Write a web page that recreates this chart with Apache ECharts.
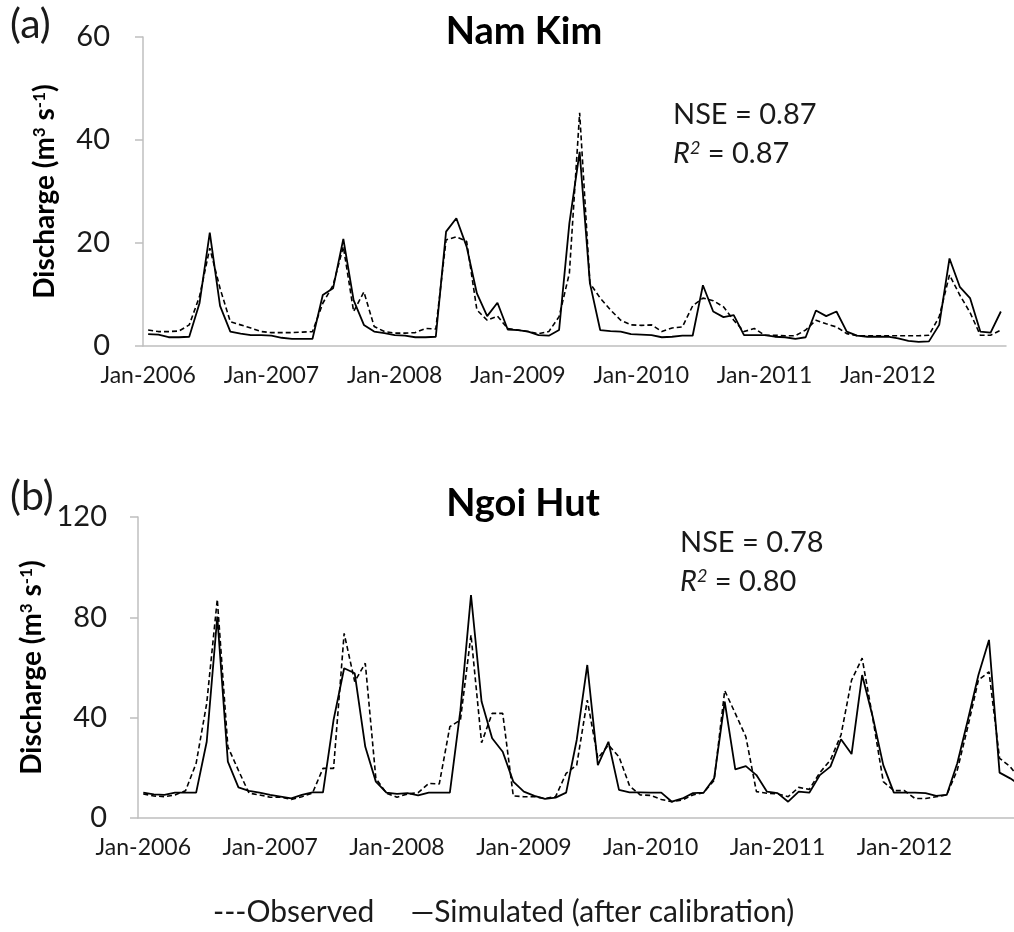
<!DOCTYPE html>
<html>
<head>
<meta charset="utf-8">
<script src="https://cdn.jsdelivr.net/npm/echarts@6/dist/echarts.min.js"></script>
<style>
html,body{margin:0;padding:0;background:#fff;overflow:hidden;width:1014px;height:932px;}
#chart{width:1040px;height:932px;}
</style>
</head>
<body>
<div id="chart"></div>
<script>
// Tick labels / categories
var years = [2006, 2007, 2008, 2009, 2010, 2011, 2012];
var monthNames = ['Jan','Feb','Mar','Apr','May','Jun','Jul','Aug','Sep','Oct','Nov','Dec'];
var panelTitles = ['Nam Kim', 'Ngoi Hut'];
var panelLetters = ['(a)', '(b)'];
var nseValues = ['0.87', '0.78'];
var r2Values = ['0.87', '0.80'];
var yTicksA = [0, 20, 40, 60];
var yTicksB = [0, 40, 80, 120];
var seriesNames = ['Observed', 'Simulated (after calibration)'];

// Monthly discharge, Jan-2006 .. Dec-2012 (m3/s)
var namKimObs = [
  3.1, 2.8, 2.8, 2.9, 4.1, 9.6, 19.0, 11.2, 4.7, 4.1, 3.5, 2.8,
  2.6, 2.6, 2.6, 2.7, 2.8, 8.3, 11.8, 19.3, 6.7, 10.5, 3.8, 2.8,
  2.5, 2.5, 2.6, 3.4, 3.3, 20.6, 21.2, 20.3, 7.0, 5.0, 5.8, 3.4,
  3.1, 2.8, 2.4, 2.8, 5.7, 14.1, 45.3, 12.2, 9.3, 7.0, 5.0, 4.1,
  4.0, 4.1, 2.8, 3.5, 3.7, 7.8, 9.3, 8.8, 7.6, 5.0, 2.8, 3.4,
  2.1, 2.1, 2.0, 2.0, 3.1, 5.0, 4.3, 3.7, 2.4, 2.0, 2.0, 2.0,
  2.0, 2.0, 2.0, 2.0, 2.1, 5.7, 13.8, 9.9, 6.5, 2.1, 2.1, 3.1
];
var namKimSim = [
  2.3, 2.2, 1.7, 1.7, 1.8, 8.3, 22.0, 7.8, 2.8, 2.4, 2.1, 2.1,
  2.0, 1.6, 1.4, 1.4, 1.4, 9.9, 11.2, 20.8, 8.9, 4.1, 2.8, 2.5,
  2.1, 2.0, 1.7, 1.7, 1.8, 22.2, 24.8, 19.3, 10.2, 5.8, 8.4, 3.2,
  3.1, 2.8, 2.1, 2.0, 3.1, 23.8, 37.7, 12.2, 3.1, 2.9, 2.8, 2.3,
  2.2, 2.1, 1.7, 1.8, 2.0, 2.0, 11.8, 6.7, 5.6, 6.0, 2.1, 2.1,
  2.1, 1.8, 1.7, 1.4, 1.7, 6.9, 5.8, 6.7, 2.8, 2.0, 1.8, 1.8,
  1.8, 1.5, 1.0, 0.8, 0.9, 4.1, 17.0, 11.5, 9.3, 2.8, 2.6, 6.7
];
var ngoiHutObs = [
  9.6, 8.8, 8.5, 9.2, 10.9, 21.8, 45.7, 87.2, 28.4, 19.0, 9.9, 9.2,
  8.3, 8.3, 7.4, 8.5, 9.9, 19.8, 19.8, 73.6, 54.4, 61.7, 15.8, 9.9,
  8.3, 9.6, 10.1, 13.8, 13.6, 36.4, 39.1, 73.0, 30.0, 41.7, 41.7, 8.8,
  8.5, 8.5, 7.8, 8.5, 17.8, 21.1, 47.0, 23.8, 29.1, 24.4, 12.8, 9.2,
  9.0, 7.4, 6.5, 7.2, 9.2, 10.1, 15.0, 50.8, 41.7, 32.4, 10.5, 9.9,
  9.6, 8.5, 12.2, 11.4, 18.1, 23.1, 33.1, 55.0, 63.7, 39.9, 14.5, 10.9,
  10.9, 7.8, 7.8, 8.5, 9.2, 19.1, 36.4, 55.0, 58.3, 23.8, 20.5, 15.0
];
var ngoiHutSim = [
  10.1, 9.4, 9.2, 10.1, 10.1, 10.1, 30.4, 80.3, 22.5, 12.2, 10.8, 10.1,
  9.2, 8.5, 7.8, 9.2, 10.2, 10.2, 39.1, 59.7, 57.7, 28.4, 14.5, 10.1,
  9.6, 9.9, 9.0, 10.1, 10.1, 10.1, 43.0, 88.9, 46.4, 31.8, 26.4, 14.5,
  10.5, 8.8, 7.6, 8.1, 10.1, 31.1, 61.0, 21.1, 30.4, 11.2, 10.2, 10.2,
  10.1, 10.1, 6.5, 7.8, 9.9, 10.1, 15.8, 46.4, 19.4, 20.7, 17.1, 10.5,
  9.9, 6.5, 10.5, 10.1, 17.1, 20.5, 31.4, 25.5, 57.0, 40.4, 21.1, 10.1,
  10.1, 10.1, 9.9, 8.8, 9.2, 21.8, 39.1, 57.0, 71.0, 18.1, 15.8, 13.0
];

var categories = [];
years.forEach(function (y) {
  monthNames.forEach(function (m) { categories.push(m + '-' + y); });
});

var FONT = 'Lato, "Open Sans", sans-serif';
var AXIS_GRAY = '#bfbfbf';
var TEXT = '#1a1a1a';

function xAxisFor(gridIndex) {
  return {
    type: 'category', gridIndex: gridIndex, data: categories, boundaryGap: true,
    axisLine: { lineStyle: { color: AXIS_GRAY, width: 1.5 } },
    axisTick: { interval: 11, length: 8, lineStyle: { color: AXIS_GRAY, width: 1.5 } },
    axisLabel: { interval: 11, color: TEXT, fontFamily: FONT, fontSize: 23, margin: 18 },
    splitLine: { show: false }
  };
}
function yAxisFor(gridIndex, ticks, labelMargin, nameGap) {
  return {
    type: 'value', gridIndex: gridIndex,
    min: ticks[0], max: ticks[ticks.length - 1], interval: ticks[1] - ticks[0],
    axisLine: { show: true, lineStyle: { color: AXIS_GRAY, width: 1.5 } },
    axisTick: { show: true, length: 8, lineStyle: { color: AXIS_GRAY, width: 1.5 } },
    axisLabel: { color: TEXT, fontFamily: FONT, fontSize: 29, margin: labelMargin },
    splitLine: { show: false },
    name: 'Discharge (m{sup|3} s{sup|-1})',
    nameLocation: 'middle', nameRotate: 90, nameGap: nameGap,
    nameTextStyle: {
      fontFamily: FONT, fontSize: 28, fontWeight: 'bold', color: '#000',
      rich: { sup: { fontFamily: FONT, fontSize: 17, fontWeight: 'bold', color: '#000', verticalAlign: 'top', lineHeight: 17 } }
    }
  };
}
function seriesFor(name, data, idx, dashed) {
  return {
    name: name, type: 'line', xAxisIndex: idx, yAxisIndex: idx, data: data,
    symbol: 'none', smooth: false, animation: false,
    lineStyle: { color: '#000', width: dashed ? 1.6 : 1.8, type: dashed ? [5, 3] : 'solid' },
    itemStyle: { color: '#000' }
  };
}
function statText(left, top, nse, r2) {
  return [
    { type: 'text', left: left, top: top,
      style: { text: 'NSE = ' + nse, font: '29px ' + FONT, fill: TEXT } },
    { type: 'text', left: left, top: top + 39,
      style: { text: '{it|R}{sup|2} = ' + r2, font: '29px ' + FONT, fill: TEXT,
        rich: { it: { fontStyle: 'italic', fontSize: 29, fontFamily: FONT, fill: TEXT },
                sup: { fontStyle: 'italic', fontSize: 18, fontFamily: FONT, fill: TEXT, verticalAlign: 'top', lineHeight: 18 } } } }
  ];
}

var chart = echarts.init(document.getElementById('chart'), null, { renderer: 'canvas' });
chart.setOption({
  backgroundColor: '#fff',
  animation: false,
  title: [
    { text: panelTitles[0], left: 519, top: 8, textAlign: 'center',
      textStyle: { fontFamily: FONT, fontSize: 38, fontWeight: 'bold', color: '#000' } },
    { text: panelTitles[1], left: 518, top: 480, textAlign: 'center',
      textStyle: { fontFamily: FONT, fontSize: 38, fontWeight: 'bold', color: '#000' } }
  ],
  grid: [
    { left: 143, top: 37, width: 863, height: 309 },
    { left: 138, top: 517, width: 888, height: 301 }
  ],
  xAxis: [xAxisFor(0), xAxisFor(1)],
  yAxis: [yAxisFor(0, yTicksA, 33, 84), yAxisFor(1, yTicksB, 31, 79)],
  legend: {
    data: seriesNames,
    icon: 'none',
    left: 202, top: 892, itemWidth: 1, itemHeight: 1, itemGap: 30,
    formatter: function (name) { return (name === seriesNames[0] ? '---' : '\u2014') + name; },
    textStyle: { fontFamily: FONT, fontSize: 30, color: TEXT }
  },
  graphic: [
    { type: 'text', left: 10, top: 4, style: { text: panelLetters[0], font: '41px ' + FONT, fill: TEXT } },
    { type: 'text', left: 10, top: 476, style: { text: panelLetters[1], font: '41px ' + FONT, fill: TEXT } }
  ].concat(statText(673, 100, nseValues[0], r2Values[0]))
   .concat(statText(680, 528, nseValues[1], r2Values[1])),
  series: [
    seriesFor(seriesNames[0], namKimObs, 0, true),
    seriesFor(seriesNames[1], namKimSim, 0, false),
    seriesFor(seriesNames[0], ngoiHutObs, 1, true),
    seriesFor(seriesNames[1], ngoiHutSim, 1, false)
  ]
});
</script>
</body>
</html>
